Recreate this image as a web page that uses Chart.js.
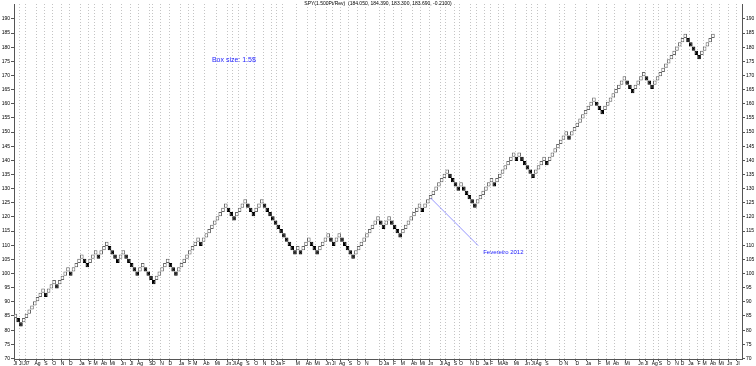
<!DOCTYPE html>
<html>
<head>
<meta charset="utf-8">
<script src="https://cdn.jsdelivr.net/npm/chart.js@4.4.1/dist/chart.umd.min.js"></script>
<style>
  html, body { margin: 0; padding: 0; background: #fff; }
  #wrap { width: 756px; height: 366px; }
</style>
</head>
<body>
<div id="wrap"><canvas id="renko" width="756" height="366"></canvas></div>
<script>
// Dados (Renko SPY, caixa de 1.5$)
const startPrice = 85;      // centro do primeiro tijolo
const boxSize = 1.5;
// colunas do Renko: + tijolos brancos (alta), - tijolos pretos (baixa)
const brickRuns = [1, -2, 8, -1, 3, -1, 4, -1, 4, -2, 3, -1, 3, -4, 2, -5, 2, -4, 5, -3, 8, -1,
  9, -3, 4, -3, 3, -12, 1, -1, 3, -3, 4, -2, 2, -5, 9, -2, 2, -4, 7, -1, 9, -4, 1, -5, 6, -1, 7, -1, 1, -5,
  4, -1, 7, -1, 9, -3, 8, -3, 4, -3, 12, -5, 5];
const emptyCols = 10;

const yTicks = [70, 75, 80, 85, 90, 95, 100, 105, 110, 115, 120, 125, 130, 135, 140, 145, 150, 155, 160, 165, 170, 175, 180, 185, 190];

// marcas de data no eixo x (coluna, texto)
const dateCols = [0, 2, 4, 8, 11, 14, 17, 20, 24, 27, 29, 32, 35, 39, 42, 45, 49, 50, 53, 56, 60, 63, 65, 69, 73, 77, 79, 81, 84,
  87, 90, 93, 95, 97, 102, 106, 109, 113, 115, 118, 121, 124, 127, 132, 134, 137, 140, 144, 147, 150, 154, 156, 159, 161, 165, 167, 170, 172, 175,
  177, 181, 185, 187, 189, 192, 197, 199, 203, 207, 211, 214, 217, 221, 226, 228, 231, 233, 236, 239, 241, 244, 247, 249, 252, 255, 258, 261];
const dateText = ['Jl', 'Jl', 'Jl7', 'Ag', 'S', 'O', 'N', 'D', 'Ja', 'F', 'M', 'Ab', 'Mi', 'Jn', 'Jl', 'Ag', 'S', 'O', 'N', 'D', 'Ja', 'F', 'M', 'Ab', 'Mi', 'Jn', 'Jl', 'Ag', 'S',
  'O', 'N', 'D', 'Ja', 'F', 'M', 'Ab', 'Mi', 'Jn', 'Jl', 'Ag', 'S', 'O', 'N', 'D', 'Ja', 'F', 'M', 'Ab', 'Mi', 'Jn', 'Jl', 'Ag', 'S', 'O', 'N', 'D', 'Ja', 'F', 'M',
  'Ab', 'Mi', 'Jn', 'Jl', 'Ag', 'S', 'O', 'N', 'D', 'Ja', 'F', 'M', 'Ab', 'Mi', 'Jn', 'Jl', 'Ag', 'S', 'O', 'N', 'D', 'Ja', 'F', 'M', 'Ab', 'Mi', 'Jn', 'Jl'];

const titleText = 'SPY(1.500Pt/Rev)  (184.050, 184.390, 183.300, 183.690, -0.2100)';
const boxNote = { col: 71, price: 175.3, text: 'Box size: 1.5$' };
const febNote = { col: 150, price: 126.7, textCol: 169, textPrice: 107.4, text: 'Fevereiro 2012' };

// monta os tijolos
const bricks = [];
const brickUp = [];
let prevLo = startPrice - boxSize / 2, prevHi = startPrice + boxSize / 2;
brickRuns.forEach((run, i) => {
  const n = Math.abs(run);
  for (let k = 0; k < n; k++) {
    if (i === 0 && k === 0) {
      bricks.push([prevLo, prevHi]);
      brickUp.push(true);
      continue;
    }
    if (run > 0) { prevLo = prevHi; prevHi = prevLo + boxSize; }
    else { prevHi = prevLo; prevLo = prevHi - boxSize; }
    bricks.push([prevLo, prevHi]);
    brickUp.push(run > 0);
  }
});
for (let k = 0; k < emptyCols; k++) { bricks.push(null); brickUp.push(true); }

const labels = bricks.map((b, i) => {
  const j = dateCols.indexOf(i);
  return j >= 0 ? dateText[j] : '';
});
const gridSet = new Set(dateCols);

const overlay = {
  id: 'overlay',
  afterDatasetsDraw(chart) {
    const c = chart.ctx, x = chart.scales.x, y = chart.scales.y;
    c.save();
    c.fillStyle = '#000';
    c.font = '5px "Liberation Sans", Arial, sans-serif';
    c.textAlign = 'center';
    c.textBaseline = 'top';
    c.fillText(titleText, 378, 1);
    c.fillStyle = '#2424ff';
    c.textAlign = 'left';
    c.textBaseline = 'middle';
    c.font = '7px "Liberation Sans", Arial, sans-serif';
    c.fillText(boxNote.text, x.getPixelForValue(boxNote.col), y.getPixelForValue(boxNote.price));
    c.font = '6px "Liberation Sans", Arial, sans-serif';
    c.fillText(febNote.text, x.getPixelForValue(febNote.textCol), y.getPixelForValue(febNote.textPrice));
    c.strokeStyle = '#7b7bff';
    c.lineWidth = 0.8;
    c.beginPath();
    c.moveTo(x.getPixelForValue(febNote.col), y.getPixelForValue(febNote.price));
    c.lineTo(x.getPixelForValue(febNote.textCol) - 5, y.getPixelForValue(febNote.textPrice) - 7);
    c.stroke();
    c.restore();
  }
};

const tickFont = { family: '"Liberation Sans", Arial, sans-serif', size: 5 };
const keepTicks = s => { s.ticks = yTicks.map(v => ({ value: v })); };

new Chart(document.getElementById('renko'), {
  type: 'bar',
  data: {
    labels: labels,
    datasets: [{
      data: bricks,
      backgroundColor: brickUp.map(u => u ? '#ffffff' : '#000000'),
      borderColor: brickUp.map(u => u ? '#666666' : '#000000'),
      borderWidth: 1,
      borderSkipped: false,
      barPercentage: 1.3,
      categoryPercentage: 1
    }]
  },
  options: {
    responsive: false,
    animation: false,
    layout: { padding: { top: 1, bottom: 0, left: 0, right: 0 } },
    plugins: { legend: { display: false }, tooltip: { enabled: false } },
    scales: {
      x: {
        grid: {
          color: ctx => gridSet.has(ctx.index) ? '#c4c4c4' : 'rgba(0,0,0,0)',
          tickColor: ctx => gridSet.has(ctx.index) ? '#555' : 'rgba(0,0,0,0)',
          tickLength: 2,
          lineWidth: 1
        },
        border: { display: true, color: '#555', dash: [1, 2] },
        ticks: { autoSkip: false, maxRotation: 0, padding: 0, color: '#000', font: tickFont },
        afterFit(s) { s.height = 7; }
      },
      y: {
        position: 'left',
        min: 69.8, max: 195.25,
        grid: { drawOnChartArea: false, tickLength: 3, color: '#555' },
        border: { color: '#555' },
        ticks: { padding: 1, color: '#000', font: tickFont },
        afterBuildTicks: keepTicks,
        afterFit(s) { s.width = 14; }
      },
      y2: {
        position: 'right',
        min: 69.8, max: 195.25,
        grid: { drawOnChartArea: false, tickLength: 3, color: '#555' },
        border: { color: '#555' },
        ticks: { padding: 1, color: '#000', font: tickFont },
        afterBuildTicks: keepTicks,
        afterFit(s) { s.width = 14; }
      }
    }
  },
  plugins: [overlay]
});
</script>
</body>
</html>
